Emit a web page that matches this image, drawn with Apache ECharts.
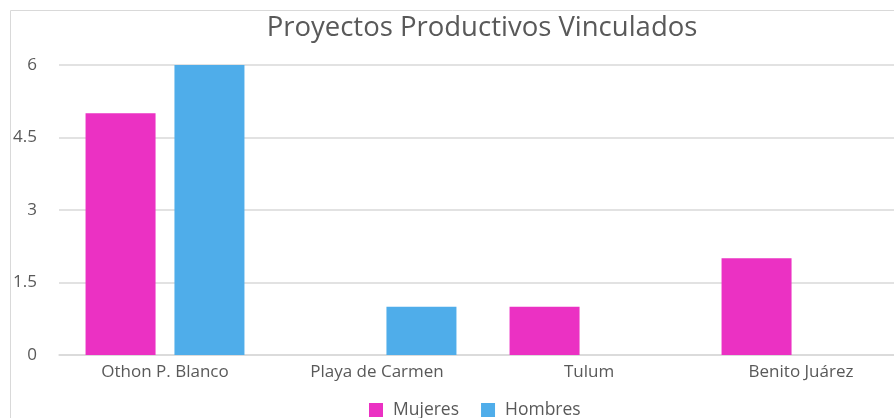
<!DOCTYPE html>
<html>
<head>
<meta charset="utf-8">
<script src="https://cdn.jsdelivr.net/npm/echarts@6/dist/echarts.min.js"></script>
<style>html,body{margin:0;padding:0;background:#fff}#c{width:894px;height:418px}</style>
</head>
<body>
<div id="c"></div>
<script>
const categories = ['Othon P. Blanco', 'Playa de Carmen', 'Tulum', 'Benito Juárez'];
const mujeres = [5, 0, 1, 2];
const hombres = [6, 1, 0, 0];
const yTicks = [0, 1.5, 3, 4.5, 6];

const chart = echarts.init(document.getElementById('c'));
const font = '"Open Sans", sans-serif';
chart.setOption({
  animation: false,
  title: {
    text: 'Proyectos Productivos Vinculados',
    left: 477, top: 9, textAlign: 'center',
    textStyle: { fontFamily: font, fontSize: 27.5, fontWeight: 'normal', color: '#595959' }
  },
  graphic: [{
    type: 'rect', silent: true, z: -1,
    shape: { x: 10.5, y: 10.5, width: 920, height: 440 },
    style: { fill: 'none', stroke: '#d9d9d9', lineWidth: 1 }
  }],
  legend: {
    bottom: -6, left: 364,
    itemWidth: 14, itemHeight: 14, itemGap: 22,
    icon: 'rect',
    textStyle: { fontFamily: font, fontSize: 17.5, color: '#595959', padding: [0, 0, 0, 5] },
    data: ['Mujeres', 'Hombres']
  },
  grid: { left: 59, right: -13, top: 65, bottom: 63, containLabel: false, outerBoundsMode: 'none' },
  xAxis: {
    type: 'category', data: categories,
    axisLine: { lineStyle: { color: '#d9d9d9', width: 1.5 } },
    axisTick: { show: false },
    axisLabel: { fontFamily: font, fontSize: 17, color: '#595959', margin: 9 }
  },
  yAxis: {
    type: 'value', min: 0, max: 6, interval: 1.5,
    axisLine: { show: false }, axisTick: { show: false },
    splitLine: { lineStyle: { color: '#d9d9d9', width: 1.5 } },
    axisLabel: {
      fontFamily: font, fontSize: 17, color: '#595959', margin: 22,
      formatter: v => yTicks.includes(v) ? String(v) : ''
    }
  },
  series: [
    { name: 'Mujeres', type: 'bar', data: mujeres, barWidth: 70, barGap: '27%',
      itemStyle: { color: '#EB31C3' } },
    { name: 'Hombres', type: 'bar', data: hombres, barWidth: 70,
      itemStyle: { color: '#4FADEA' } }
  ]
});
</script>
</body>
</html>
